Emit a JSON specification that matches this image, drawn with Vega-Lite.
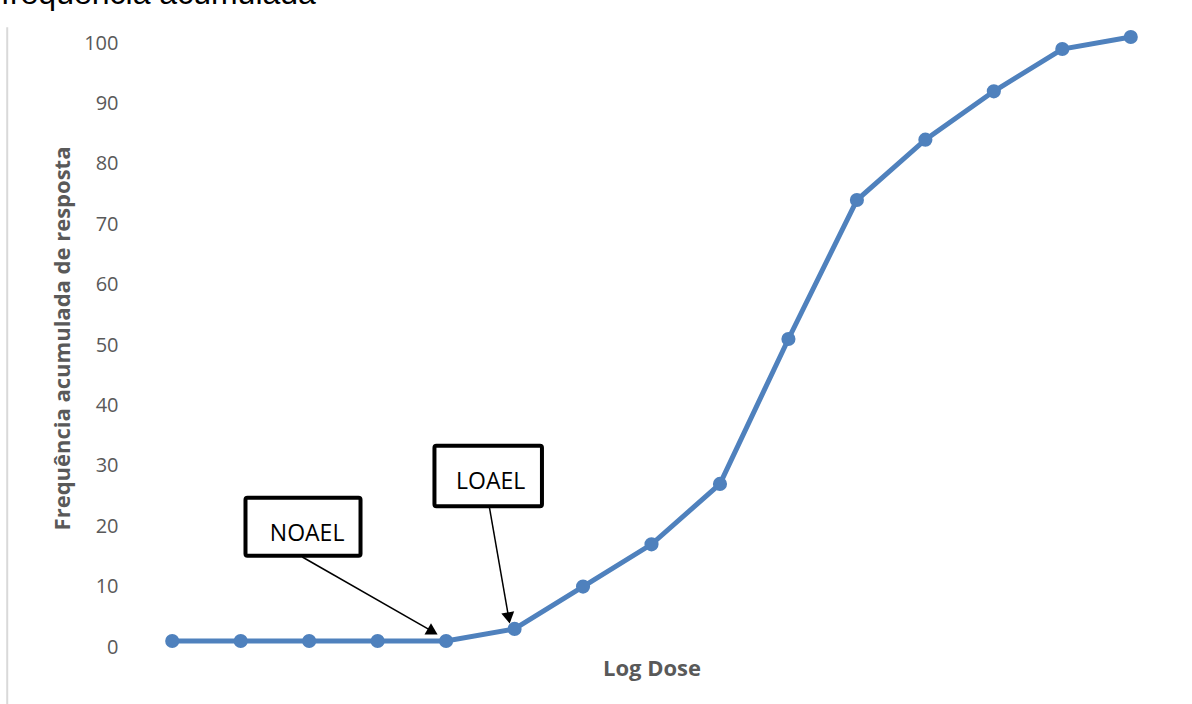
{
  "$schema": "https://vega.github.io/schema/vega-lite/v6.json",
  "width": 1027,
  "height": 604,
  "autosize": {"type": "none"},
  "padding": {"left": 138, "top": 43, "right": 27, "bottom": 57},
  "background": "white",
  "config": {"view": {"stroke": null}},
  "title": {
    "text": "frequência acumulada",
    "anchor": "start",
    "frame": "group",
    "font": "Liberation Sans",
    "fontSize": 32,
    "fontWeight": "normal",
    "color": "#000000",
    "baseline": "alphabetic",
    "offset": -10,
    "dx": -137
  },
  "datasets": {
    "series": [
      {"dose": 1, "freq": 1},
      {"dose": 2, "freq": 1},
      {"dose": 3, "freq": 1},
      {"dose": 4, "freq": 1},
      {"dose": 5, "freq": 1},
      {"dose": 6, "freq": 3},
      {"dose": 7, "freq": 10},
      {"dose": 8, "freq": 17},
      {"dose": 9, "freq": 27},
      {"dose": 10, "freq": 51},
      {"dose": 11, "freq": 74},
      {"dose": 12, "freq": 84},
      {"dose": 13, "freq": 92},
      {"dose": 14, "freq": 99},
      {"dose": 15, "freq": 101}
    ],
    "boxes": [
      {"label": "NOAEL", "x1": 2.07, "x2": 3.75, "y1": 15.1, "y2": 24.7, "tx": 2.97, "ty": 18.7},
      {"label": "LOAEL", "x1": 4.83, "x2": 6.4, "y1": 23.3, "y2": 33.3, "tx": 5.65, "ty": 27.3}
    ],
    "arrows": [
      {"label": "NOAEL", "xs": 2.9, "ys": 14.9, "xe": 4.78, "ye": 2.7, "ang": 119.7},
      {"label": "LOAEL", "xs": 5.63, "ys": 23.3, "xe": 5.91, "ye": 5.1, "ang": 170.1}
    ],
    "frame": [{"xf": -1.41, "yt": 102.6, "yb": -9.6}]
  },
  "layer": [
    {
      "data": {"name": "frame"},
      "mark": {"type": "rule", "color": "#d9d9d9", "strokeWidth": 2},
      "encoding": {
        "x": {"field": "xf", "type": "quantitative"},
        "y": {"field": "yt", "type": "quantitative"},
        "y2": {"field": "yb"}
      }
    },
    {
      "data": {"name": "series"},
      "mark": {"type": "line", "color": "#4f81bd", "strokeWidth": 5, "point": {"filled": true, "size": 200, "color": "#4f81bd", "opacity": 1}},
      "encoding": {
        "x": {
          "field": "dose", "type": "quantitative",
          "scale": {"domain": [0.5, 15.5], "nice": false, "zero": false},
          "axis": {"title": "Log Dose", "labels": false, "ticks": false, "domain": false, "grid": false,
                   "titleFont": "Open Sans", "titleFontSize": 22, "titleFontWeight": "bold", "titleColor": "#595959", "titlePadding": 11}
        },
        "y": {
          "field": "freq", "type": "quantitative",
          "scale": {"domain": [0, 100], "nice": false},
          "axis": {"title": "Frequência acumulada de resposta", "values": [0, 10, 20, 30, 40, 50, 60, 70, 80, 90, 100],
                   "ticks": false, "domain": false, "grid": false, "labelPadding": 20,
                   "labelFont": "Open Sans", "labelFontSize": 20, "labelColor": "#595959",
                   "titleFont": "Open Sans", "titleFontSize": 22, "titleFontWeight": "bold", "titleColor": "#595959", "titlePadding": 9, "titleY": 295}
        }
      }
    },
    {
      "data": {"name": "arrows"},
      "mark": {"type": "rule", "color": "#000000", "strokeWidth": 1.5},
      "encoding": {
        "x": {"field": "xs", "type": "quantitative"},
        "y": {"field": "ys", "type": "quantitative"},
        "x2": {"field": "xe"},
        "y2": {"field": "ye"}
      }
    },
    {
      "data": {"name": "arrows"},
      "mark": {"type": "point", "shape": "triangle", "filled": true, "color": "#000000", "size": 170, "opacity": 1},
      "encoding": {
        "x": {"field": "xe", "type": "quantitative"},
        "y": {"field": "ye", "type": "quantitative"},
        "angle": {"field": "ang", "type": "quantitative", "scale": null}
      }
    },
    {
      "data": {"name": "boxes"},
      "mark": {"type": "rect", "fill": "white", "stroke": "#000000", "strokeWidth": 4, "cornerRadius": 2},
      "encoding": {
        "x": {"field": "x1", "type": "quantitative"},
        "x2": {"field": "x2"},
        "y": {"field": "y1", "type": "quantitative"},
        "y2": {"field": "y2"}
      }
    },
    {
      "data": {"name": "boxes"},
      "mark": {"type": "text", "font": "Open Sans", "fontSize": 23, "color": "#000000", "baseline": "middle", "align": "center"},
      "encoding": {
        "x": {"field": "tx", "type": "quantitative"},
        "y": {"field": "ty", "type": "quantitative"},
        "text": {"field": "label"}
      }
    }
  ]
}
